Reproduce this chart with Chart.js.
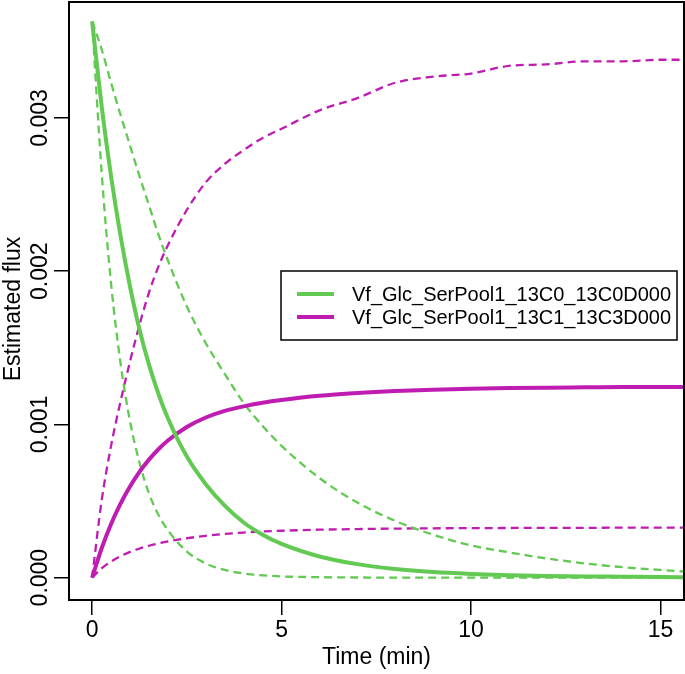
<!DOCTYPE html>
<html>
<head>
<meta charset="utf-8">
<script src="https://cdn.jsdelivr.net/npm/chart.js@4/dist/chart.umd.min.js"></script>
<style>
  html, body { margin: 0; padding: 0; background: #fff; }
  #wrap { width: 685px; height: 674px; }
</style>
</head>
<body>
<div id="wrap"><canvas id="fluxChart" width="685" height="674"></canvas></div>
<script>
// time points (min)
const times = [0, 0.25, 0.5, 0.75, 1, 1.25, 1.5, 1.75, 2, 2.5, 3, 3.5, 4, 4.5, 5,
    6, 7, 8, 9, 10, 11, 12, 13, 14, 15, 15.6];

// 13C0_13C0D000 estimate and its two bounds
const greenFit = [0.00363, 0.00308, 0.00262, 0.00223, 0.0019, 0.00162, 0.00139, 0.0012, 0.00104,
    0.00079, 0.00061, 0.00047, 0.00036, 0.00028, 0.00022, 0.000138, 0.000088, 0.000056, 0.000036,
    0.000024, 0.000016, 0.000011, 0.000008, 0.000006, 0.000004, 0.000003];
const greenFast = [0.00363, 0.00265, 0.00192, 0.0014, 0.00102, 0.00075, 0.00055, 0.00041, 0.00031,
    0.00017, 0.000092, 0.00005, 0.000027, 0.000015, 0.000008, 0.000003, 0.000001, 0, 0,
    0, 0, 0, 0, 0, 0, 0];
const greenSlow = [0.00363, 0.00345, 0.00323, 0.00302, 0.00282, 0.00262, 0.00243, 0.00224, 0.00207,
    0.00177, 0.00153, 0.00133, 0.00114, 0.00099, 0.00086, 0.00065, 0.00049, 0.00037, 0.00028,
    0.00021, 0.000165, 0.000125, 0.000093, 0.000068, 0.00005, 0.00004];

// 13C1_13C3D000 estimate and its two bounds
const magentaFit = [0, 0.00019, 0.00035, 0.000483, 0.000595, 0.00069, 0.00077, 0.000838, 0.000895,
    0.000983, 0.001045, 0.001088, 0.001118, 0.001141, 0.001159, 0.001187, 0.001205, 0.001218, 0.001227,
    0.001233, 0.001237, 0.00124, 0.001242, 0.001244, 0.001245, 0.001245];
const magentaHigh = [0, 0.0005, 0.00086, 0.00115, 0.00141, 0.00165, 0.00186, 0.00203, 0.00217,
    0.0024, 0.00258, 0.0027, 0.00279, 0.00287, 0.00293, 0.00305, 0.00313, 0.00323, 0.00327,
    0.00329, 0.00334, 0.00335, 0.00337, 0.00337, 0.00338, 0.00338];
const magentaLow = [0, 0.00006, 0.000105, 0.00014, 0.000168, 0.00019, 0.000208, 0.000223, 0.000236,
    0.000257, 0.000273, 0.000285, 0.000294, 0.000301, 0.000306, 0.000313, 0.000317, 0.00032, 0.000322,
    0.000323, 0.000324, 0.000325, 0.000325, 0.000326, 0.000326, 0.000326];

const xTicks = [0, 5, 10, 15];
const yTicks = [0, 0.001, 0.002, 0.003];
const yTickLabels = ["0.000", "0.001", "0.002", "0.003"];
const seriesNames = ["Vf_Glc_SerPool1_13C0_13C0D000", "Vf_Glc_SerPool1_13C1_13C3D000"];

const GREEN = "#62c952";
const MAGENTA = "#bf1cb1";
const FONT = "'Liberation Sans', Arial, sans-serif";

function pts(values) {
    return times.map((t, i) => ({ x: t, y: values[i] }));
}

function series(values, color, dashed) {
    return {
        data: pts(values),
        borderColor: color,
        borderWidth: dashed ? 2.3 : 4,
        borderDash: dashed ? [8, 5] : [],
        pointRadius: 0,
        fill: false,
        cubicInterpolationMode: "monotone"
    };
}

// frame, rotated y labels and the legend box, drawn like base R graphics
const rPlot = {
    id: "rPlot",
    afterDraw(chart) {
        const ctx = chart.ctx;
        const a = chart.chartArea;
        const yScale = chart.scales.y;

        ctx.save();
        ctx.strokeStyle = "#000";
        ctx.lineWidth = 2;
        ctx.strokeRect(a.left, a.top, a.right - a.left, a.bottom - a.top);

        ctx.fillStyle = "#000";
        ctx.font = "23px " + FONT;
        ctx.textAlign = "center";
        ctx.textBaseline = "middle";
        yTicks.forEach((v, i) => {
            const py = yScale.getPixelForValue(v);
            ctx.save();
            ctx.translate(41, py);
            ctx.rotate(-Math.PI / 2);
            ctx.fillText(yTickLabels[i], 0, 0);
            ctx.restore();
        });

        ctx.save();
        ctx.translate(14, (a.top + a.bottom) / 2 + 8);
        ctx.rotate(-Math.PI / 2);
        ctx.fillText("Estimated flux", 0, 0);
        ctx.restore();

        // legend
        const lx = 281, ly = 271, lw = 396, lh = 69;
        ctx.fillStyle = "#fff";
        ctx.fillRect(lx, ly, lw, lh);
        ctx.lineWidth = 1.5;
        ctx.strokeRect(lx, ly, lw, lh);
        const colors = [GREEN, MAGENTA];
        const rows = [294, 317];
        ctx.font = "20px " + FONT;
        ctx.textAlign = "left";
        rows.forEach((ry, i) => {
            ctx.strokeStyle = colors[i];
            ctx.lineWidth = 4;
            ctx.beginPath();
            ctx.moveTo(297, ry);
            ctx.lineTo(334, ry);
            ctx.stroke();
            ctx.fillStyle = "#000";
            ctx.fillText(seriesNames[i], 352, ry + 1);
        });
        ctx.restore();
    }
};

new Chart(
    document.getElementById("fluxChart").getContext("2d"),
{
    type: "line",
    data: {
        datasets: [
            series(greenFit, GREEN, false),
            series(magentaFit, MAGENTA, false),
            series(greenFast, GREEN, true),
            series(greenSlow, GREEN, true),
            series(magentaHigh, MAGENTA, true),
            series(magentaLow, MAGENTA, true)
        ]
    },
    options: {
        responsive: false,
        animation: false,
        layout: { padding: { top: 2, right: 1, left: 0, bottom: 0 } },
        plugins: {
            legend: { display: false },
            tooltip: { enabled: false }
        },
        scales: {
            x: {
                type: "linear",
                min: -0.61,
                max: 15.62,
                afterBuildTicks: s => { s.ticks = xTicks.map(v => ({ value: v })); },
                afterFit: s => { s.height = 74; },
                grid: {
                    display: true,
                    drawOnChartArea: false,
                    drawTicks: true,
                    tickLength: 15,
                    color: "#000",
                    lineWidth: 1.5
                },
                border: { display: false },
                ticks: {
                    color: "#000",
                    font: { size: 23, family: FONT },
                    padding: 2,
                    maxRotation: 0,
                    callback: v => String(v)
                },
                title: {
                    display: true,
                    text: "Time (min)",
                    color: "#000",
                    font: { size: 23, family: FONT },
                    padding: { top: 0, bottom: 3 }
                }
            },
            y: {
                type: "linear",
                min: -0.000146,
                max: 0.003757,
                afterBuildTicks: s => { s.ticks = yTicks.map(v => ({ value: v })); },
                afterFit: s => { s.width = 69; },
                grid: {
                    display: true,
                    drawOnChartArea: false,
                    drawTicks: true,
                    tickLength: 15,
                    color: "#000",
                    lineWidth: 1.5
                },
                border: { display: false },
                ticks: { display: false }
            }
        }
    },
    plugins: [rPlot]
});
</script>
</body>
</html>
